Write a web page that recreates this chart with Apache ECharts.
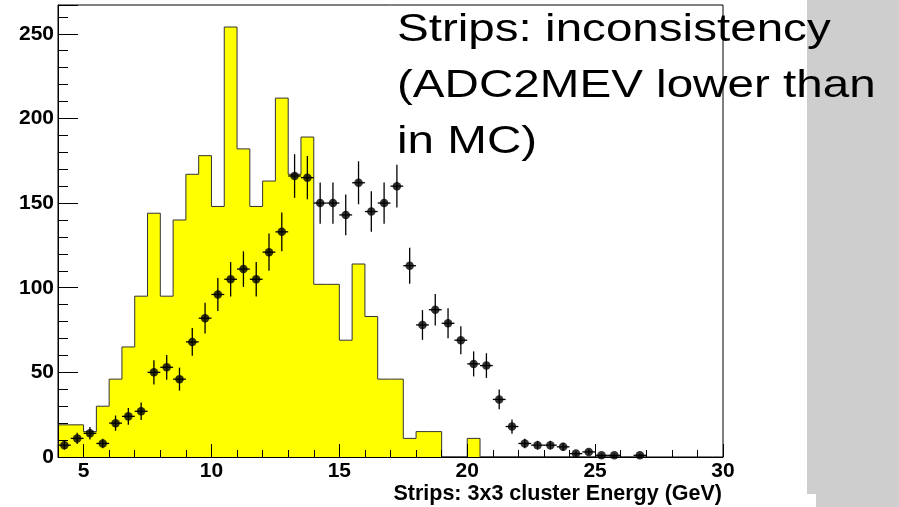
<!DOCTYPE html>
<html>
<head>
<meta charset="utf-8">
<script src="https://cdn.jsdelivr.net/npm/echarts@6/dist/echarts.min.js"></script>
<style>
  html, body { margin: 0; padding: 0; background: #fff; }
  #panel { width: 899px; height: 507px; }
</style>
</head>
<body>
<div id="panel"></div>
<script>
// bin centres in GeV (bins are 0.5 GeV wide)
const binCenters = [4.25, 4.75, 5.25, 5.75, 6.25, 6.75, 7.25, 7.75, 8.25, 8.75,
  9.25, 9.75, 10.25, 10.75, 11.25, 11.75, 12.25, 12.75, 13.25, 13.75,
  14.25, 14.75, 15.25, 15.75, 16.25, 16.75, 17.25, 17.75, 18.25, 18.75,
  19.25, 19.75, 20.25, 20.75, 21.25, 21.75, 22.25, 22.75, 23.25, 23.75,
  24.25, 24.75, 25.25, 25.75, 26.25, 26.75];

// MC (yellow histogram)
const mcCounts = [19, 19, 15, 30, 46, 65, 95, 144, 95, 140,
  167, 178, 148, 254, 182, 148, 163, 212, 167, 189,
  102, 102, 69, 114, 83, 46, 46, 11, 15, 15,
  0, 0, 11, 0, 0, 0, 0, 0, 0, 0,
  0, 0, 0, 0, 0, 0];

// data (black points) and their error bars
const dataCounts = [7, 11, 14, 8, 20, 24, 27, 50, 53, 46,
  68, 82, 96, 105, 111, 105, 121, 133, 166, 165,
  150, 150, 143, 162, 145, 150, 160, 113, 78, 87,
  79, 69, 55, 54, 34, 18, 8, 7, 7, 6,
  2, 3, 1, 1, 0, 1];
const dataErrors = [2.6, 3.3, 3.7, 2.8, 4.5, 4.9, 5.2, 7.1, 7.3, 6.8,
  8.2, 9.1, 9.8, 10.2, 10.5, 10.2, 11.0, 11.5, 12.9, 12.8,
  12.2, 12.2, 12.0, 12.7, 12.0, 12.2, 12.6, 10.6, 8.8, 9.3,
  8.9, 8.3, 7.4, 7.3, 5.8, 4.2, 2.8, 2.6, 2.6, 2.4,
  1.4, 1.7, 1.0, 1.0, 0, 1.0];

const xRange = [4, 30];
const yRange = [0, 267];

const titleLines = ['Strips: inconsistency', '(ADC2MEV lower than', 'in MC)'];
const xTitle = 'Strips: 3x3 cluster Energy (GeV)';

const HALF = 0.25; // half bin width
const FONT = '"Liberation Sans", Arial, Helvetica, sans-serif';

// step outline of the histogram, one point per bin low edge
const histLine = binCenters.map((c, i) => [c - HALF, mcCounts[i]]);
histLine.push([binCenters[binCenters.length - 1] + HALF, 0]);

// empty bins are not drawn (root style)
const points = binCenters
  .map((c, i) => [c, dataCounts[i], dataErrors[i]])
  .filter(d => d[1] > 0);

const myChart = echarts.init(document.getElementById('panel'));

const option = {
  animation: false,
  backgroundColor: '#fff',
  grid: {
    left: 58,
    top: 5,
    width: 665,
    height: 452,
    show: true,
    borderColor: '#000',
    borderWidth: 1,
    outerBoundsMode: 'none',
  },
  xAxis: {
    type: 'value',
    min: xRange[0],
    max: xRange[1],
    splitNumber: 5,
    z: 5,
    axisLine: { show: true, lineStyle: { color: '#000', width: 1 } },
    axisTick: { show: true, inside: true, length: 13, lineStyle: { color: '#000' } },
    minorTick: { show: true, splitNumber: 5, length: 7, lineStyle: { color: '#000' } },
    splitLine: { show: false },
    axisLabel: {
      color: '#000',
      fontFamily: FONT,
      fontWeight: 'bold',
      fontSize: 21,
      margin: 4,
      showMinLabel: false,
    },
  },
  yAxis: {
    type: 'value',
    min: yRange[0],
    max: yRange[1],
    interval: 50,
    z: 5,
    axisLine: { show: true, lineStyle: { color: '#000', width: 1 } },
    axisTick: { show: true, inside: true, length: 20, lineStyle: { color: '#000' } },
    minorTick: { show: true, splitNumber: 5, length: 10, lineStyle: { color: '#000' } },
    splitLine: { show: false },
    axisLabel: {
      color: '#000',
      fontFamily: FONT,
      fontWeight: 'bold',
      fontSize: 21,
      margin: 4,
      showMaxLabel: false,
    },
  },
  series: [
    {
      name: 'MC',
      type: 'line',
      step: 'end',
      data: histLine,
      symbol: 'none',
      lineStyle: { color: '#333', width: 1 },
      areaStyle: { color: '#ffff00', opacity: 1 },
      z: 1,
    },
    {
      name: 'errors',
      type: 'custom',
      data: points,
      z: 3,
      renderItem: function (params, api) {
        const x = api.value(0);
        const y = api.value(1);
        const e = api.value(2);
        const top = api.coord([x, y + e]);
        const bot = api.coord([x, Math.max(0, y - e)]);
        const l = api.coord([x - HALF, y]);
        const r = api.coord([x + HALF, y]);
        const st = { stroke: '#000', lineWidth: 1.3 };
        return {
          type: 'group',
          children: [
            { type: 'line', shape: { x1: top[0], y1: top[1], x2: bot[0], y2: bot[1] }, style: st },
            { type: 'line', shape: { x1: l[0], y1: l[1], x2: r[0], y2: r[1] }, style: st },
          ],
        };
      },
    },
    {
      name: 'data',
      type: 'scatter',
      data: points.map(d => [d[0], d[1]]),
      symbol: 'circle',
      symbolSize: 8.5,
      itemStyle: { color: '#000' },
      z: 4,
    },
  ],
  graphic: [
    // grey strip on the right of the slide
    { type: 'rect', left: 807, top: 0, shape: { width: 92, height: 494 }, style: { fill: '#cecece' }, z: 0 },
    { type: 'rect', left: 816, top: 494, shape: { width: 83, height: 13 }, style: { fill: '#cecece' }, z: 0 },
    {
      type: 'text', x: 397, y: 30, scaleX: 1.22, z: 100,
      style: { text: titleLines[0], font: '39px ' + FONT, fill: '#000', verticalAlign: 'middle' },
    },
    {
      type: 'text', x: 397, y: 86, scaleX: 1.22, z: 100,
      style: { text: titleLines[1], font: '39px ' + FONT, fill: '#000', verticalAlign: 'middle' },
    },
    {
      type: 'text', x: 397, y: 142, scaleX: 1.22, z: 100,
      style: { text: titleLines[2], font: '39px ' + FONT, fill: '#000', verticalAlign: 'middle' },
    },
    {
      type: 'text', x: 722, y: 494, z: 100,
      style: { text: xTitle, font: 'bold 21.5px ' + FONT, fill: '#000', align: 'right', verticalAlign: 'middle' },
    },
  ],
};

myChart.setOption(option);
</script>
</body>
</html>
